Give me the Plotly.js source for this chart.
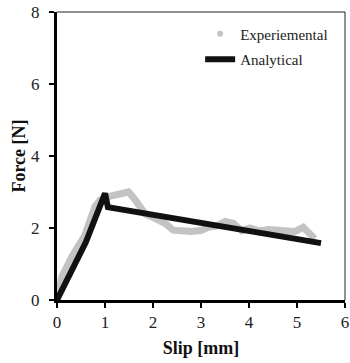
<!DOCTYPE html>
<html>
<head>
<meta charset="utf-8">
<script src="https://cdn.plot.ly/plotly-3.0.1.min.js"></script>
<style>html,body{margin:0;padding:0;background:#fff;}#chart{width:350px;height:363px;}</style>
</head>
<body>
<div id="chart"></div>
<script>
// Experimental series (slip in mm, force in N)
const expX = [0, 0.1, 0.31, 0.58, 0.79, 0.9, 1.07, 1.21, 1.35, 1.49, 1.63, 1.73, 1.83, 2.04, 2.25, 2.42, 2.6, 2.8, 3.0, 3.15, 3.33, 3.5, 3.67, 3.85, 4.02, 4.2, 4.4, 4.6, 4.8, 4.95, 5.13, 5.3, 5.37];
const expY = [0, 0.65, 1.2, 1.8, 2.59, 2.78, 2.87, 2.92, 2.94, 3.0, 2.78, 2.55, 2.4, 2.27, 2.13, 1.94, 1.9, 1.9, 1.93, 2.02, 2.06, 2.18, 2.13, 1.92, 2.0, 1.92, 1.96, 1.94, 1.92, 1.9, 2.02, 1.8, 1.7];
// Analytical series
const anaX = [0, 0.6, 1.0, 1.06, 5.5];
const anaY = [0, 1.6, 2.96, 2.58, 1.58];
// Tick values
const xTicks = [0, 1, 2, 3, 4, 5, 6];
const yTicks = [0, 2, 4, 6, 8];

const serif = "'Liberation Serif', 'Times New Roman', serif";

const traces = [
  {x: expX, y: expY, mode: 'lines', line: {color: '#c3c3c3', width: 7}, showlegend: false, legendgroup: 'e', hoverinfo: 'skip'},
  {x: [null], y: [null], mode: 'markers', name: 'Experiemental', legendgroup: 'e', marker: {color: '#c3c3c3', size: 6}},
  {x: anaX, y: anaY, mode: 'lines', name: 'Analytical', legendgroup: 'a', line: {color: '#111', width: 6}}
];

const layout = {
  width: 350, height: 363,
  margin: {l: 57, r: 5, t: 12, b: 63},
  paper_bgcolor: '#fff', plot_bgcolor: '#fff',
  font: {family: serif, color: '#222', size: 17},
  xaxis: {
    range: [0, 6], tickvals: xTicks, ticktext: xTicks.map(String),
    showgrid: false, zeroline: false,
    showline: true, linecolor: '#000', linewidth: 3,
    ticks: 'outside', ticklen: 5, tickwidth: 1.5, tickcolor: '#000',
    tickfont: {size: 17, family: serif, color: '#222'},
    title: {text: '<b>Slip [mm]</b>', font: {size: 18, family: serif, color: '#111'}, standoff: 10}
  },
  yaxis: {
    range: [0, 8], tickvals: yTicks, ticktext: yTicks.map(String),
    showgrid: false, zeroline: false,
    showline: true, linecolor: '#000', linewidth: 3,
    ticks: 'outside', ticklen: 5, tickwidth: 1.5, tickcolor: '#000',
    ticklabelstandoff: 6,
    tickfont: {size: 17, family: serif, color: '#222'},
    title: {text: '<b>Force [N]</b>', font: {size: 18, family: serif, color: '#111'}, standoff: 1}
  },
  legend: {
    x: 0.497, y: 0.981, xanchor: 'left', yanchor: 'top',
    bgcolor: 'rgba(0,0,0,0)', borderwidth: 0,
    font: {size: 15, family: serif, color: '#222'},
    traceorder: 'grouped', tracegroupgap: 3
  },
  shapes: [
    {type: 'line', xref: 'paper', yref: 'paper', x0: 0, x1: 1, y0: 1, y1: 1, line: {color: '#222', width: 1}},
    {type: 'line', xref: 'paper', yref: 'paper', x0: 1, x1: 1, y0: 0, y1: 1, line: {color: '#222', width: 1}}
  ]
};

Plotly.newPlot('chart', traces, layout, {displayModeBar: false, staticPlot: true});
</script>
</body>
</html>
